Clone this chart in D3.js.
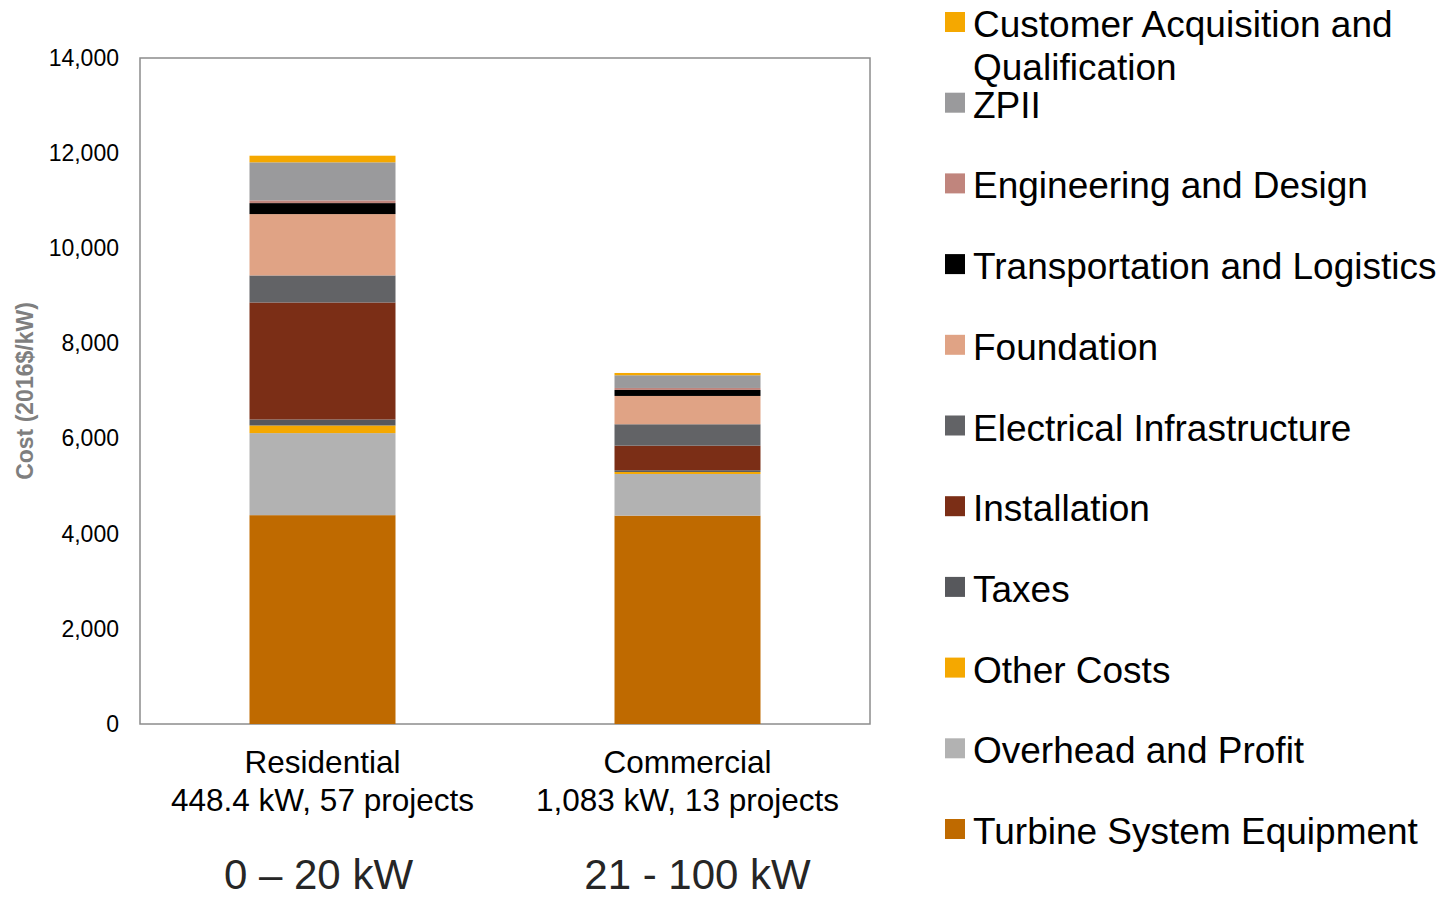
<!DOCTYPE html>
<html>
<head>
<meta charset="utf-8">
<script src="https://cdn.jsdelivr.net/npm/d3@7"></script>
<style>
  body { margin: 0; background: #fff; }
  text { font-family: "Liberation Sans", Arial, sans-serif; }
</style>
</head>
<body>
<div id="chart"></div>
<script>
// categories on the x axis
const categories = ["Residential", "Commercial"];
const subLabels = ["448.4 kW, 57 projects", "1,083 kW, 13 projects"];
const sizeLabels = ["0 \u2013 20 kW", "21 - 100 kW"];

// cost components, bottom of the stack first
const components = ["Turbine System Equipment", "Overhead and Profit", "Other Costs", "Taxes",
  "Installation", "Electrical Infrastructure", "Foundation", "Transportation and Logistics",
  "Engineering and Design", "ZPII", "Customer Acquisition and Qualification"];
const colors = ["#bf6a00", "#b2b2b2", "#f5a800", "#57585c",
  "#7b2e16", "#626366", "#e0a385", "#000000",
  "#c0857d", "#9a9a9c", "#f5a800"];

// $/kW values, same order as components
const residential = [4390, 1725, 160, 126, 2460, 568, 1290, 231, 57, 800, 139];
const commercial  = [4380, 876, 42, 36, 517, 450, 595, 126, 42, 267, 48];

const yTicks = [0, 2000, 4000, 6000, 8000, 10000, 12000, 14000];

const W = 1449, H = 900;
const plot = {left: 140, right: 870, top: 58, bottom: 724};

const svg = d3.select("#chart").append("svg")
    .attr("width", W).attr("height", H);

const x = d3.scaleBand()
    .domain(categories)
    .range([plot.left, plot.right])
    .paddingInner(0.6)
    .paddingOuter(0.3);
const y = d3.scaleLinear()
    .domain([0, 14000])
    .range([plot.bottom, plot.top]);

// table for the stack
const rows = categories.map((c, i) => {
    const r = {cat: c};
    const vals = i === 0 ? residential : commercial;
    components.forEach((k, j) => r[k] = vals[j]);
    return r;
});
const series = d3.stack().keys(components)(rows);

// frame
svg.append("rect")
    .attr("x", plot.left).attr("y", plot.top)
    .attr("width", plot.right - plot.left).attr("height", plot.bottom - plot.top)
    .attr("fill", "none").attr("stroke", "#8c8c8c").attr("stroke-width", 1.5);

// bars
svg.append("g").selectAll("g")
    .data(series)
    .enter().append("g")
    .attr("fill", (d, i) => colors[i])
    .selectAll("rect")
    .data(d => d)
    .enter().append("rect")
    .attr("x", d => x(d.data.cat))
    .attr("width", x.bandwidth())
    .attr("y", d => y(d[1]))
    .attr("height", d => y(d[0]) - y(d[1]));

// y axis
const yAxis = d3.axisLeft(y).tickValues(yTicks).tickSize(0).tickPadding(21)
    .tickFormat(d3.format(","));
const ga = svg.append("g")
    .attr("transform", `translate(${plot.left},0)`)
    .call(yAxis);
ga.select(".domain").remove();
ga.selectAll("text")
    .attr("font-family", "Liberation Sans, Arial, sans-serif")
    .attr("font-size", 23)
    .attr("fill", "#000");

svg.append("text")
    .attr("transform", `translate(33,${(plot.top + plot.bottom) / 2}) rotate(-90)`)
    .attr("text-anchor", "middle")
    .attr("font-size", 23)
    .attr("font-weight", "bold")
    .attr("fill", "#7f7f7f")
    .text("Cost (2016$/kW)");

// category labels
const cx = c => x(c) + x.bandwidth() / 2;
svg.append("g").selectAll("text")
    .data(categories)
    .enter().append("text")
    .attr("x", cx).attr("y", 773)
    .attr("text-anchor", "middle")
    .attr("font-size", 31.5)
    .attr("fill", "#000")
    .text(d => d);
svg.append("g").selectAll("text")
    .data(subLabels)
    .enter().append("text")
    .attr("x", (d, i) => cx(categories[i])).attr("y", 811)
    .attr("text-anchor", "middle")
    .attr("font-size", 31.5)
    .attr("fill", "#000")
    .text(d => d);
svg.append("g").selectAll("text")
    .data(sizeLabels)
    .enter().append("text")
    .attr("x", (d, i) => cx(categories[i]) - (i === 0 ? 4 : -10)).attr("y", 889)
    .attr("text-anchor", "middle")
    .attr("font-family", "Open Sans, sans-serif")
    .attr("font-size", 42)
    .attr("fill", "#262626")
    .text(d => d);

// legend, top entry is the top of the stack
const legendKeys = components.slice().reverse();
const legendColors = colors.slice().reverse();
const rowStep = 80.7;
const lg = svg.append("g").selectAll("g")
    .data(legendKeys)
    .enter().append("g")
    .attr("transform", (d, i) => `translate(945,${37 + i * rowStep})`);
lg.append("rect")
    .attr("x", 0).attr("y", -25)
    .attr("width", 20).attr("height", 20)
    .attr("fill", (d, i) => legendColors[i]);
lg.append("text")
    .attr("x", 28).attr("y", 0)
    .attr("font-size", 37)
    .attr("fill", "#000")
    .each(function (d) {
        const t = d3.select(this);
        if (d === "Customer Acquisition and Qualification") {
            t.append("tspan").attr("x", 28).attr("dy", 0).text("Customer Acquisition and");
            t.append("tspan").attr("x", 28).attr("dy", 43).text("Qualification");
        } else {
            t.text(d);
        }
    });
</script>
</body>
</html>
